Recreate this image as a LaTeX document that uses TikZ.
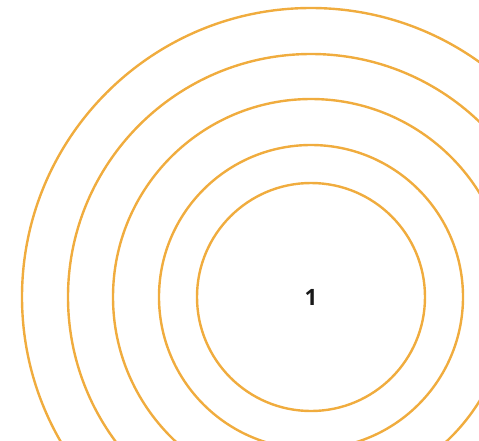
\documentclass[tikz,border=0pt]{standalone}
\usepackage{fontspec}
\setmainfont{Open Sans}
\definecolor{ring}{RGB}{240,172,62}
\begin{document}
\begin{tikzpicture}[x=1pt,y=-1pt,
  ringline/.style={draw=ring,line width=2.4pt}]
\useasboundingbox (0,0) rectangle (479,440);
\clip (0,0) rectangle (479,440);
\coordinate (c) at (311,297);
\foreach \r in {114,152,198,243,289}{
  \draw[ringline] (c) circle[radius=\r];
}
\node[font=\fontsize{22.5}{26}\selectfont\bfseries,text=black!90] (one) at (c) {1};
\end{tikzpicture}
\end{document}
